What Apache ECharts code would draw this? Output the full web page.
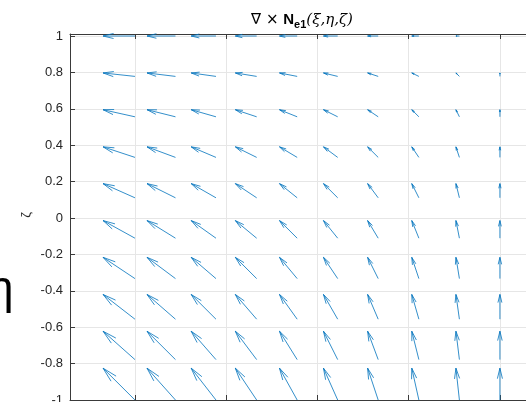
<!DOCTYPE html>
<html>
<head>
<meta charset="utf-8">
<title>Curl of N_e1</title>
<script src="https://cdn.jsdelivr.net/npm/echarts@6/dist/echarts.min.js"></script>
<style>
  html, body { margin: 0; padding: 0; background: #fff; }
  #chart { width: 526px; height: 402px; }
</style>
</head>
<body>
<div id="chart"></div>
<script>
// Sample grid (tail points) along eta (horizontal) and zeta (vertical)
const eta  = [-1, -0.778, -0.556, -0.333, -0.111, 0.111, 0.333, 0.556, 0.778, 1];
const zeta = [-1, -0.778, -0.556, -0.333, -0.111, 0.111, 0.333, 0.556, 0.778, 1];

// Displayed (auto-scaled) vector components, in axis units
// eta-component varies with eta only, zeta-component with zeta only
const uEta   = [-0.175, -0.156, -0.136, -0.117, -0.097, -0.078, -0.058, -0.039, -0.019, 0];
const vZeta  = [0.175, 0.156, 0.136, 0.117, 0.097, 0.078, 0.058, 0.039, 0.019, 0];

// Tick positions
const etaTicks  = [-1, -0.5, 0, 0.5, 1];
const zetaTicks = [-1, -0.8, -0.6, -0.4, -0.2, 0, 0.2, 0.4, 0.6, 0.8, 1];

const arrows = [];
zeta.forEach((z, j) => {
  eta.forEach((e, i) => {
    arrows.push([e, z, uEta[i], vZeta[j]]);
  });
});

// quiver-style arrowhead proportions
const HEAD_ALPHA = 0.33;
const HEAD_BETA = 0.24;
const ARROW_COLOR = '#0072BD';
const AXIS_COLOR = '#3a3a3a';
const TEXT_COLOR = '#262626';
const FONT = '"Liberation Sans", Arial, "DejaVu Sans", sans-serif';
const SYM_FONT = '"DejaVu Sans", sans-serif';
const GREEK_FONT = '"DejaVu Serif", "Liberation Serif", serif';

function renderArrow(params, api) {
  const x = api.value(0), z = api.value(1), u = api.value(2), v = api.value(3);
  if (u === 0 && v === 0) return null;
  const tail = api.coord([x, z]);
  const tx = x + u, tz = z + v;
  const tip = api.coord([tx, tz]);
  const h1 = api.coord([tx - HEAD_ALPHA * (u + HEAD_BETA * v), tz - HEAD_ALPHA * (v - HEAD_BETA * u)]);
  const h2 = api.coord([tx - HEAD_ALPHA * (u - HEAD_BETA * v), tz - HEAD_ALPHA * (v + HEAD_BETA * u)]);
  const style = { stroke: ARROW_COLOR, lineWidth: 0.8, fill: null };
  return {
    type: 'group',
    children: [
      { type: 'polyline', shape: { points: [tail, tip] }, style: style },
      { type: 'polyline', shape: { points: [h1, tip, h2] }, style: style }
    ]
  };
}

const chart = echarts.init(document.getElementById('chart'), null, { renderer: 'canvas' });

const xBase = {
  type: 'value',
  min: -1.356,
  max: 1.143,
  gridIndex: 0,
  axisLine: { show: true, onZero: false, lineStyle: { color: AXIS_COLOR, width: 1 } },
  axisTick: { show: true, inside: true, length: 5, customValues: etaTicks, lineStyle: { color: AXIS_COLOR } },
  axisLabel: { show: false, customValues: etaTicks }
};

const option = {
  backgroundColor: '#ffffff',
  animation: false,
  grid: { left: 70, top: 34, right: 0, bottom: 2, containLabel: false, outerBoundsMode: 'none' },
  xAxis: [
    Object.assign({}, xBase, {
      position: 'bottom',
      splitLine: { show: true, lineStyle: { color: '#e6e6e6', width: 1 } }
    }),
    Object.assign({}, xBase, {
      position: 'top',
      splitLine: { show: false }
    })
  ],
  yAxis: {
    type: 'value',
    min: -1,
    max: 1.011,
    axisLine: { show: true, onZero: false, lineStyle: { color: AXIS_COLOR, width: 1 } },
    axisTick: { show: true, inside: true, length: 5, customValues: zetaTicks, lineStyle: { color: AXIS_COLOR } },
    axisLabel: {
      customValues: zetaTicks,
      color: TEXT_COLOR,
      fontSize: 13,
      fontFamily: FONT,
      margin: 7
    },
    splitLine: { show: true, lineStyle: { color: '#e6e6e6', width: 1 } }
  },
  graphic: [
    {
      type: 'text',
      x: 302,
      y: 20,
      style: {
        text: '{a|∇ × }{n|N}{s|e1}{g|(ξ,η,ζ)}',
        align: 'center',
        verticalAlign: 'middle',
        fill: '#000',
        font: '15px ' + FONT,
        rich: {
          a: { fontSize: 15, fontFamily: SYM_FONT, fill: '#000' },
          n: { fontWeight: 'bold', fontSize: 15, fontFamily: FONT, fill: '#000' },
          s: { fontWeight: 'bold', fontSize: 11, fontFamily: FONT, fill: '#000', padding: [9, 0, 0, 0] },
          g: { fontStyle: 'italic', fontSize: 15, fontFamily: GREEK_FONT, fill: '#000' }
        }
      }
    },
    {
      type: 'text',
      x: 26,
      y: 215,
      rotation: Math.PI / 2,
      style: {
        text: 'ζ',
        align: 'center',
        verticalAlign: 'middle',
        fill: TEXT_COLOR,
        font: '13px ' + FONT
      }
    },
    {
      type: 'text',
      x: -12,
      y: 290,
      style: {
        text: 'η',
        align: 'left',
        verticalAlign: 'middle',
        fill: '#000',
        font: '46px ' + FONT
      }
    }
  ],
  series: [
    {
      type: 'custom',
      xAxisIndex: 0,
      yAxisIndex: 0,
      renderItem: renderArrow,
      encode: { x: 0, y: 1 },
      clip: false,
      data: arrows
    }
  ]
};

chart.setOption(option);
</script>
</body>
</html>
